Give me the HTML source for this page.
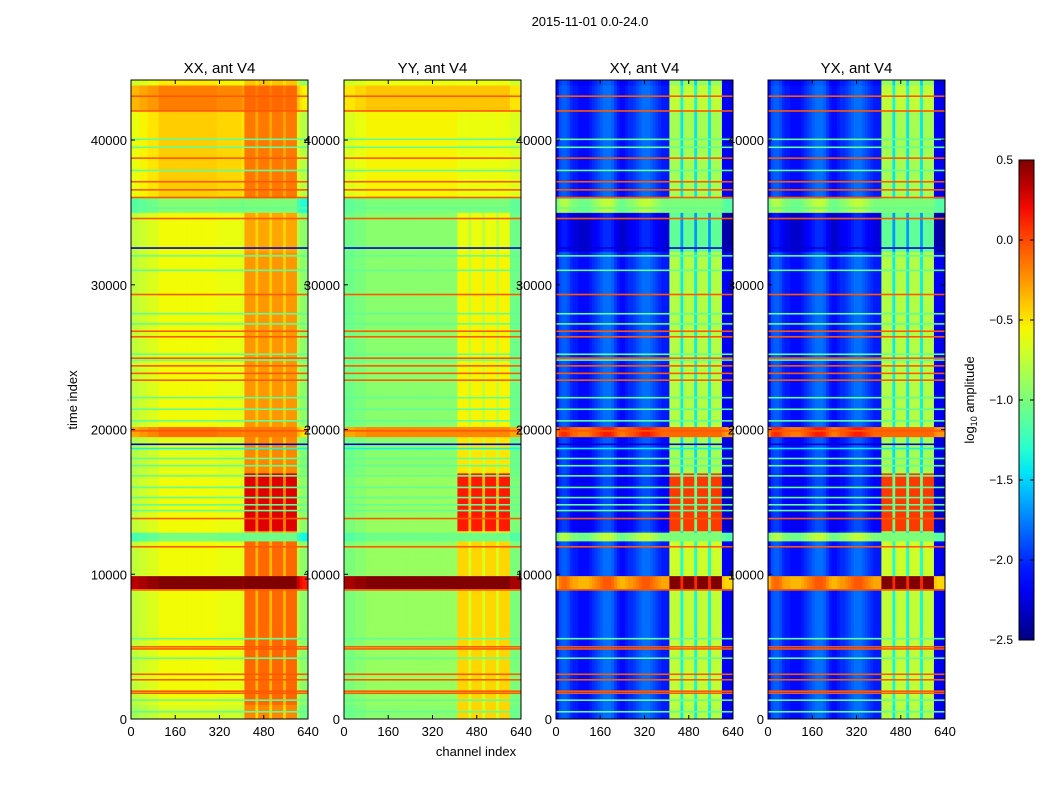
<!DOCTYPE html>
<html><head><meta charset="utf-8"><style>
body{margin:0;background:#fff;font-family:"Liberation Sans","DejaVu Sans",sans-serif;}
svg text{font-family:"Liberation Sans","DejaVu Sans",sans-serif;}
</style></head><body>
<svg id="fig" width="1050" height="800" viewBox="0 0 1050 800" xmlns="http://www.w3.org/2000/svg">
<rect x="0" y="0" width="1050" height="800" fill="#fff"/>
<text x="590" y="26" font-size="13" text-anchor="middle">2015-11-01 0.0-24.0</text>
</svg>
<script>
// ---- data ----
const panelTitles = ["XX, ant V4","YY, ant V4","XY, ant V4","YX, ant V4"];
const xTicks = [0,160,320,480,640];
const yTicks = [0,10000,20000,30000,40000];
const cbTicks = [0.5,0.0,-0.5,-1.0,-1.5,-2.0,-2.5];
const cbLabels = ["0.5","0.0","\u22120.5","\u22121.0","\u22121.5","\u22122.0","\u22122.5"];
const bandEdges = [0,1000,9000,9900,12300,12900,13000,17000,19500,20200,32300,35000,36000,42000,43800,44150];
const xxBase = [-0.7,-0.6,0.5,-0.6,-1.05,-0.6,-0.6,-0.65,-0.15,-0.6,-0.6,-1.0,-0.45,-0.2,-0.55];
const xxRfi  = [-0.2,-0.1,0.5,-0.1,-1.05,-0.3,0.25,-0.2,-0.15,-0.25,-0.3,-1.0,-0.15,-0.1,-0.4];
const yyBase = [-0.95,-0.9,0.5,-0.9,-1.05,-0.9,-0.9,-0.95,-0.2,-0.95,-0.95,-1.0,-0.55,-0.4,-0.6];
const yyRfi  = [-0.45,-0.45,0.5,-0.45,-1.05,-0.5,0.15,-0.5,-0.2,-0.55,-0.6,-1.0,-0.6,-0.4,-0.6];
const xyBase = [-2.05,-2.05,-0.3,-2.05,-1.0,-2.05,-2.15,-2.1,-0.1,-2.05,-2.25,-1.0,-2.05,-2.05,-2.1];
const xyRfi  = [-0.8,-0.75,0.5,-0.7,-1.0,-0.9,0.05,-0.85,-0.1,-0.8,-1.1,-1.0,-0.85,-0.75,-0.9];
const yxBase = [-2.05,-2.05,-0.3,-2.05,-1.0,-2.05,-2.15,-2.1,-0.1,-2.05,-2.25,-1.0,-2.05,-2.05,-2.1];
const yxRfi  = [-0.8,-0.75,0.5,-0.7,-1.0,-0.9,0.05,-0.85,-0.1,-0.8,-1.1,-1.0,-0.85,-0.75,-0.9];
// 64 channel bins of 10 channels: 1 = rfi column, 0.5 = gap inside rfi zone, 0 = normal
const rfiMask = [0,0,0,0,0,0,0,0,0,0,0,0,0,0,0,0,0,0,0,0,0,0,0,0,0,0,0,0,0,0,0,0,0,0,0,0,0,0,0,0,0,1,1,1,1,0.5,1,1,1,1,0.5,1,1,1,1,0.5,1,1,1,1,0,0,0,0];
const xxProfile = [-0.15,-0.15,-0.15,-0.1,-0.1,-0.1,-0.05,-0.05,-0.05,-0.05,0.03,0.03,0.03,0.03,0.03,0.03,0.03,0.03,0.03,0.03,0.03,0.03,0.03,0.03,0.03,0.03,0.03,0.03,0.03,0.03,0.03,0,0,0,0,0,0,0,0,0,-0.05,0,0,0,0,0,0,0,0,0,0,0,0,0,0,0,0,0,0,0,-0.2,-0.3,-0.35,-0.35];
const yyProfile = [-0.1,-0.1,-0.1,-0.1,-0.05,-0.05,-0.05,-0.05,0,0,0,0,0,0,0,0,0,0,0,0,0,0,0,0,0,0,0,0,0,0,0,0,0,0,0,0,0,0,0,0,0,0,0,0,0,0,0,0,0,0,0,0,0,0,0,0,0,0,0,0,-0.1,-0.1,-0.1,-0.1];
const xyProfile = [-0.05,0.15,0.2,0.2,0.15,0.05,0,0,-0.05,-0.05,-0.05,-0.05,0,0.05,0.1,0.15,0.2,0.25,0.25,0.25,0.2,0.1,0,-0.05,-0.05,0,0.05,0.05,0.1,0.15,0.2,0.25,0.25,0.25,0.2,0.15,0.1,0.05,0,0,0,0,0,0,0,0,0,0,0,0,0,0,0,0,0,0,0,0,0,0,-0.1,-0.15,-0.15,-0.15];
const yxProfile = [-0.05,0.15,0.2,0.2,0.15,0.05,0,0,-0.05,-0.05,-0.05,-0.05,0,0.05,0.1,0.15,0.2,0.25,0.25,0.25,0.2,0.1,0,-0.05,-0.05,0,0.05,0.05,0.1,0.15,0.2,0.25,0.25,0.25,0.2,0.15,0.1,0.05,0,0,0,0,0,0,0,0,0,0,0,0,0,0,0,0,0,0,0,0,0,0,-0.1,-0.15,-0.15,-0.15];
const redLines = [43030,42010,38750,37120,36560,36030,34580,29330,26790,26410,24930,24400,23880,23410,19910,13850,11900,8920,4990,4840,3090,2710,1920,1780];
const greenLines = [40050,39500,37900,35300,32000,31000,28000,27300,25200,24800,22200,21400,20600,18000,17500,16800,16000,15300,14800,14400,5550,4200,1300,500];
const blueLines = [32540,18980];
const cyanLines = [18690];
const redLineValue = -0.05, greenLineValue = -1.1, blueLineValue = -2.3, cyanLineValue = -1.4;

// ---- helpers ----
const NS = "http://www.w3.org/2000/svg";
const svg = document.getElementById("fig");
function mk(tag, attrs, parent){ const e=document.createElementNS(NS,tag); for(const k in attrs) e.setAttribute(k,attrs[k]); (parent||svg).appendChild(e); return e; }
function interp(p, x){ for(let i=1;i<p.length;i++){ if(x<=p[i][0]){ const a=p[i-1],b=p[i]; return a[1]+(b[1]-a[1])*(x-a[0])/(b[0]-a[0]); } } return p[p.length-1][1]; }
const R=[[0,0],[0.35,0],[0.66,1],[0.89,1],[1,0.5]], G=[[0,0],[0.125,0],[0.375,1],[0.64,1],[0.91,0],[1,0]], B=[[0,0.5],[0.11,1],[0.34,1],[0.65,0],[1,0]];
const vmin=-2.5, vmax=0.5;
function jet(v){ let f=(v-vmin)/(vmax-vmin); f=Math.max(0,Math.min(1,f)); return "rgb("+Math.round(255*interp(R,f))+","+Math.round(255*interp(G,f))+","+Math.round(255*interp(B,f))+")"; }

const panelX = [131,344,556,768], panelW = 177, panelTop = 80, panelBottom = 719;
const tMax = 44150, chMax = 640;
function yScale(t){ return panelBottom - (t/tMax)*(panelBottom-panelTop); }
const bases=[xxBase,yyBase,xyBase,yxBase], rfis=[xxRfi,yyRfi,xyRfi,yxRfi], profiles=[xxProfile,yyProfile,xyProfile,yxProfile];
const names=["xx","yy","xy","yx"];

for(let p=0;p<4;p++){
  const x0=panelX[p];
  const xScale = c => x0 + c/chMax*panelW;
  const g = mk("g",{});
  
  
  for(let b=0;b<bandEdges.length-1;b++){
    const y1=yScale(bandEdges[b+1]), y2=yScale(bandEdges[b]);
    for(let c=0;c<rfiMask.length;c++){
      const base=bases[p][b]+profiles[p][c], rf=rfis[p][b];
      let v = rfiMask[c]===1 ? rf : (rfiMask[c]===0.5 ? (bases[p][b]+rf)/2 : base);
      const cx1=xScale(c*10), cx2=xScale((c+1)*10);
      const r=mk("rect",{x:cx1.toFixed(2),y:y1.toFixed(2),width:(cx2-cx1+0.4).toFixed(2),height:(y2-y1+0.4).toFixed(2),fill:jet(v)},g);
      
      
    }
  }
  const lineSets=[[redLines,redLineValue,'red'],[greenLines,greenLineValue,'green'],[blueLines,blueLineValue,'blue'],[cyanLines,cyanLineValue,'cyan']];
  for(const [arr,val,nm] of lineSets){
    for(const t of arr){
      const l=mk("rect",{x:x0,y:(yScale(t)-0.8).toFixed(2),width:panelW,height:1.6,fill:jet(val)},g);
      
      
    }
  }
  const fr=mk("rect",{x:x0,y:panelTop,width:panelW,height:panelBottom-panelTop,fill:"none",stroke:"#000","stroke-width":1});
  
  
  for(const xt of xTicks){
    const xx=xScale(xt);
    mk("line",{x1:xx,y1:panelBottom,x2:xx,y2:panelBottom-4,stroke:"#000"});
    mk("line",{x1:xx,y1:panelTop,x2:xx,y2:panelTop+4,stroke:"#000"});
    const tl=mk("text",{x:xx,y:736,"font-size":13,"text-anchor":"middle"}); tl.textContent=xt;
    
    
  }
  for(const yt of yTicks){
    const yy=yScale(yt);
    mk("line",{x1:x0,y1:yy,x2:x0+4,y2:yy,stroke:"#000"});
    mk("line",{x1:x0+panelW,y1:yy,x2:x0+panelW-4,y2:yy,stroke:"#000"});
    const tl=mk("text",{x:x0-4,y:yy+5,"font-size":13,"text-anchor":"end"}); tl.textContent=yt;
    
    
  }
  const tt=mk("text",{x:x0+panelW/2,y:73,"font-size":15,"text-anchor":"middle"}); tt.textContent=panelTitles[p];
  
  
}
const yl=mk("text",{x:0,y:0,"font-size":13,"text-anchor":"middle",transform:"translate(77,400) rotate(-90)"}); yl.textContent="time index";


const xl=mk("text",{x:476,y:756,"font-size":13,"text-anchor":"middle"}); xl.textContent="channel index";



// colorbar
const cbX=1019, cbW=15, cbTop=160, cbBot=640;
const defs=mk("defs",{});
const lg=mk("linearGradient",{id:"jetg",x1:0,y1:1,x2:0,y2:0},defs);
for(let i=0;i<=20;i++){ mk("stop",{offset:(i/20),"stop-color":jet(vmin+(vmax-vmin)*i/20)},lg); }
const cb=mk("rect",{x:cbX,y:cbTop,width:cbW,height:cbBot-cbTop,fill:"url(#jetg)",stroke:"#000","stroke-width":1});


cbTicks.forEach((v,i)=>{
  const yy=cbBot-(v-vmin)/(vmax-vmin)*(cbBot-cbTop);
  mk("line",{x1:cbX,y1:yy,x2:cbX+4,y2:yy,stroke:"#000"});
  mk("line",{x1:cbX+cbW,y1:yy,x2:cbX+cbW-4,y2:yy,stroke:"#000"});
  const t=mk("text",{x:1013,y:yy+4,"font-size":12,"text-anchor":"end"}); t.textContent=cbLabels[i];
  
  
});
const cl=mk("text",{x:0,y:0,"font-size":13,"text-anchor":"middle",transform:"translate(974,400) rotate(-90)"});
cl.innerHTML='log<tspan font-size="9" dy="3">10</tspan><tspan dy="-3"> amplitude</tspan>';


</script>
</body></html>
